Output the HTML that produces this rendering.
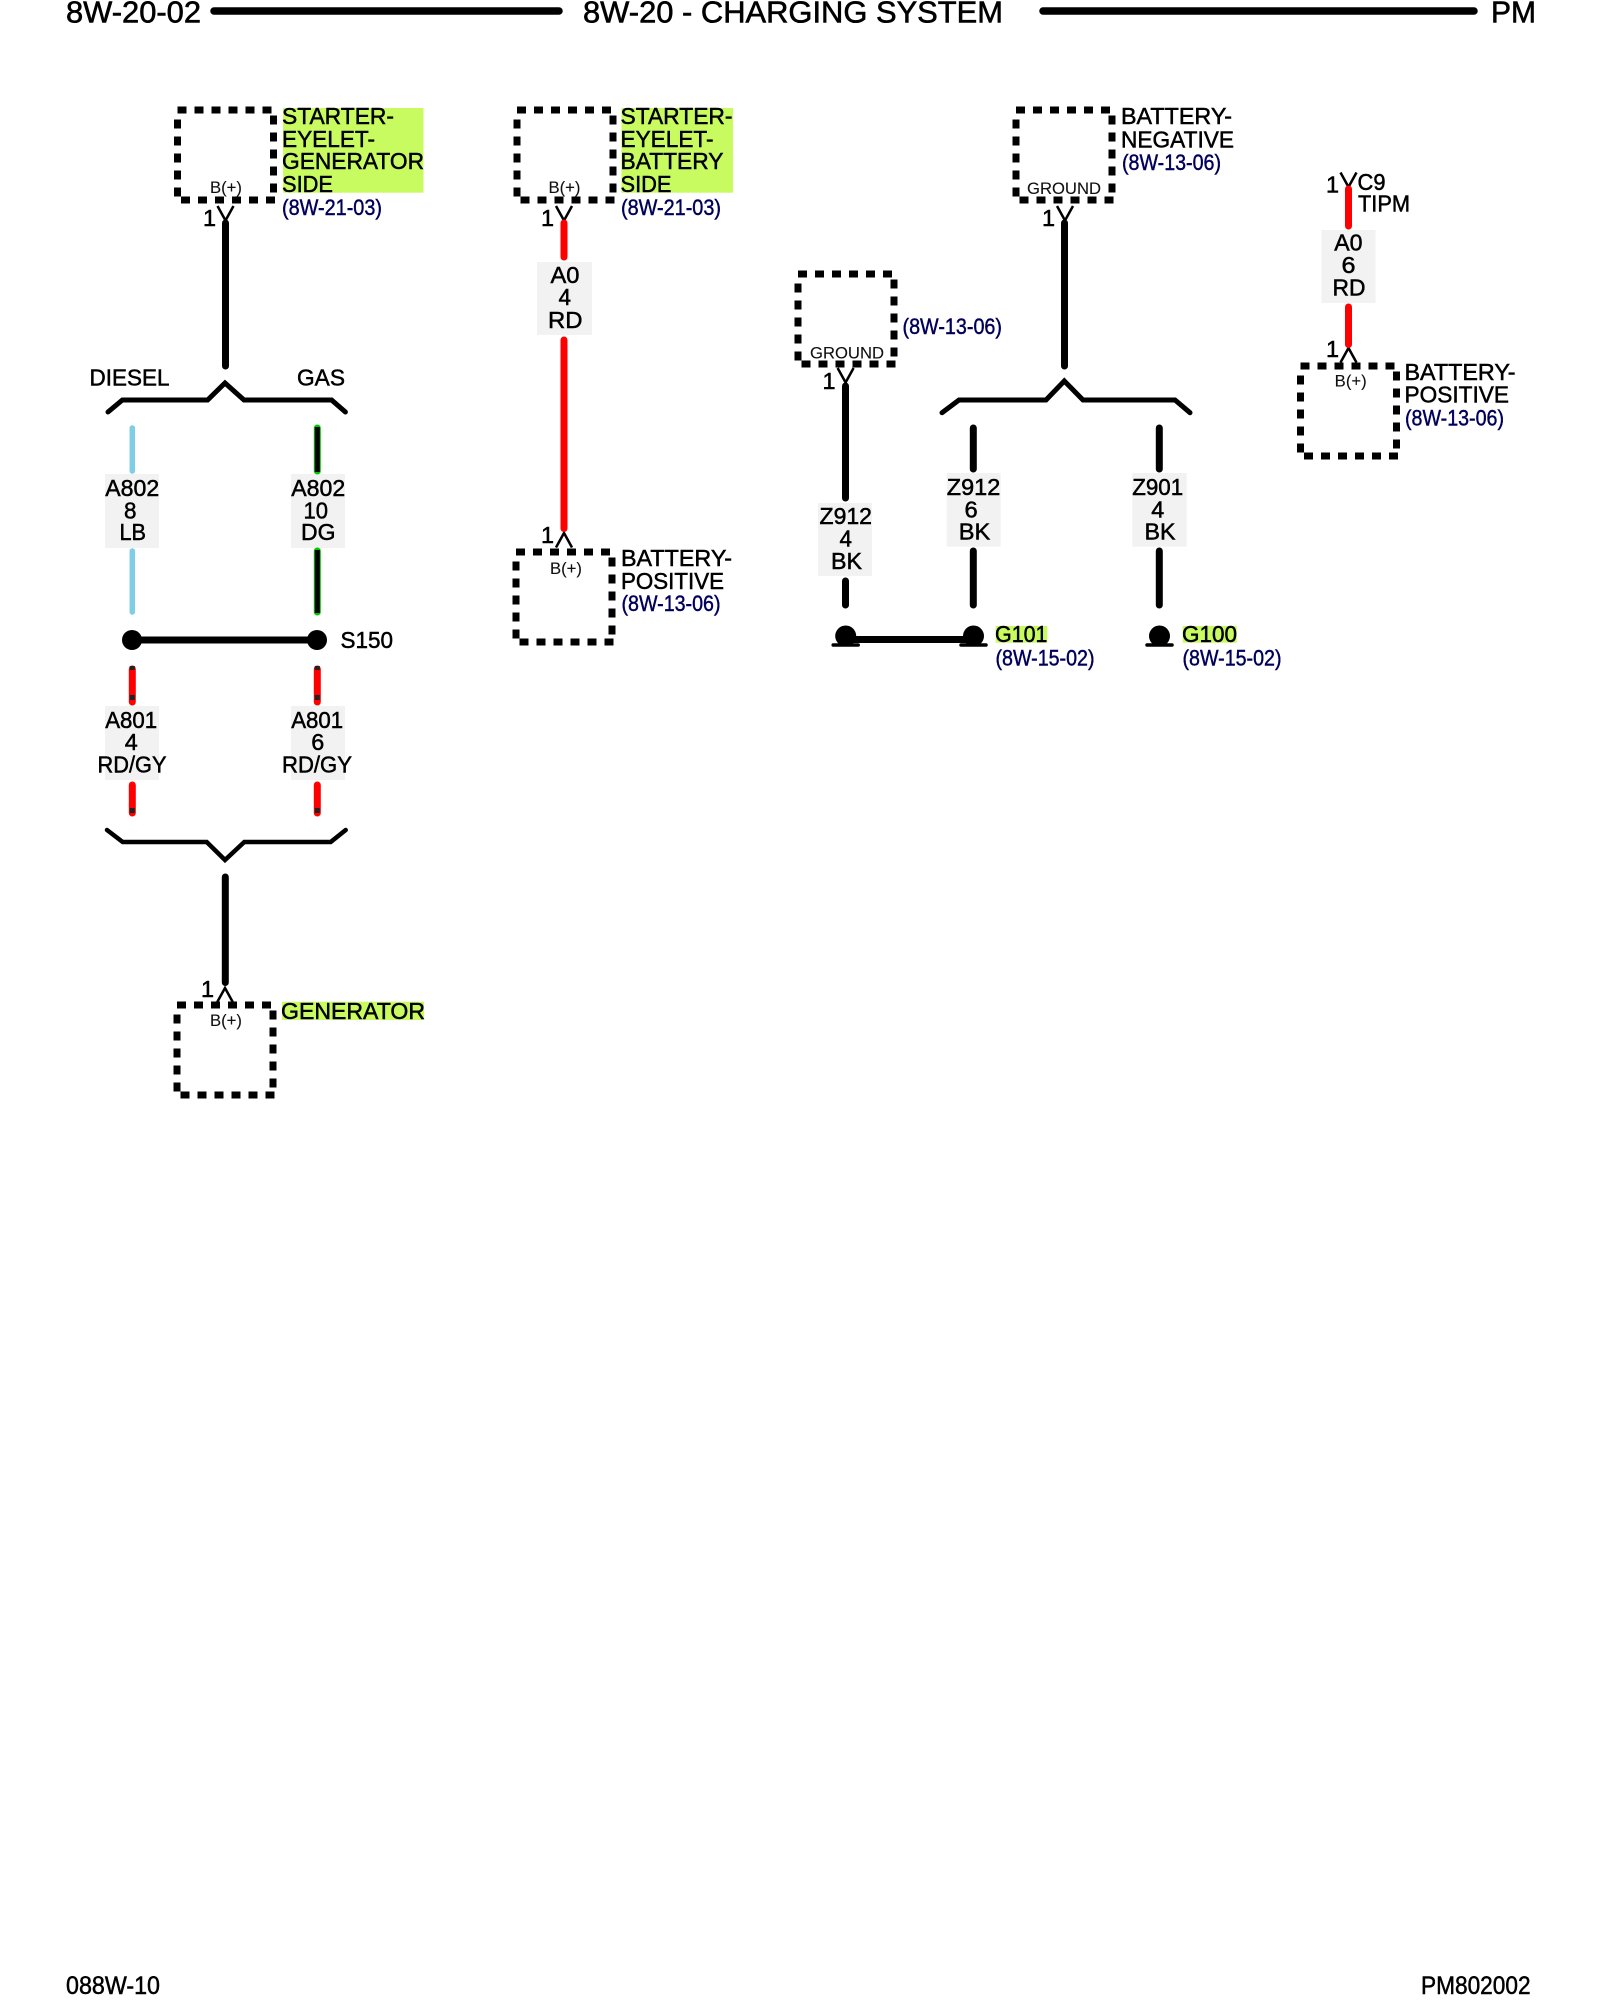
<!DOCTYPE html>
<html><head><meta charset="utf-8"><title>8W-20 Charging System</title>
<style>
html,body{margin:0;padding:0;background:#fff;width:1600px;height:2000px;overflow:hidden}
svg{display:block}
text{font-family:"Liberation Sans",Arial,sans-serif;fill:#000;stroke:#000;stroke-width:.5;font-size:23.500px}
.h{font-size:31px;stroke-width:.6}
.f{font-size:25px;stroke-width:.5}
.r{font-size:22px;fill:#00005a;stroke:#00005a;stroke-width:.45}
.s{font-size:16.500px;fill:#111;stroke:#111;stroke-width:.1}
.w{fill:none;stroke-width:7;stroke-linecap:round}
.k{stroke:#000}.d{stroke:#f00}
.b{fill:none;stroke:#000;stroke-width:5;stroke-linejoin:miter;stroke-linecap:round}
.b2{stroke-width:4.500}
.c{fill:none;stroke:#000;stroke-width:2.500}
.g{fill:#f2f2f2}.y{fill:#c8fb60}
</style></head><body>
<svg xmlns="http://www.w3.org/2000/svg" width="1600" height="2000" viewBox="0 0 1600 2000">
<defs>
<g id="box" fill="none" stroke="#000" stroke-width="7" stroke-dasharray="9 8">
<path d="M0 0H98"/><path d="M96 5.500V84"/><path d="M3.500 90H98"/><path d="M0 9.500V87"/>
</g>
<path id="cd" class="c" d="M-8 0L0 14.500L8 0"/>
<path id="cu" class="c" d="M-8 14.500L0 0L8 14.500"/>
<g id="gnd"><circle cx="0" cy="8" r="10.500" fill="#000"/><path d="M-12.500 17H12.500" stroke="#000" stroke-width="3.500" stroke-linecap="round"/></g>
</defs>

<!-- header -->
<text class="h" x="66" y="22.500" textLength="135" lengthAdjust="spacingAndGlyphs">8W-20-02</text>
<path d="M214 11H559M1043 11H1474" stroke="#000" stroke-width="7.500" stroke-linecap="round"/>
<text class="h" x="583" y="22.500" textLength="420" lengthAdjust="spacingAndGlyphs">8W-20 - CHARGING SYSTEM</text>
<text class="h" x="1491" y="22.500" textLength="45" lengthAdjust="spacingAndGlyphs">PM</text>

<!-- highlights and label backgrounds -->
<rect class="y" x="283" y="108" width="140.500" height="84.700"/>
<rect class="y" x="621.400" y="108" width="111.600" height="84.700"/>
<rect class="y" x="282" y="1001.700" width="142" height="18.300"/>
<rect class="y" x="995.700" y="626" width="51.600" height="16.700"/>
<rect class="y" x="1182.700" y="626" width="54" height="16.700"/>
<rect class="g" x="105" y="474" width="54" height="74"/>
<rect class="g" x="291" y="474" width="54" height="74"/>
<rect class="g" x="105" y="706" width="54" height="74"/>
<rect class="g" x="291" y="706" width="54" height="74"/>
<rect class="g" x="537" y="262" width="55" height="73"/>
<rect class="g" x="818" y="503" width="54" height="73"/>
<rect class="g" x="946.700" y="473" width="54" height="73.700"/>
<rect class="g" x="1132.300" y="473" width="54.400" height="73.700"/>
<rect class="g" x="1321.400" y="230" width="54.100" height="73"/>

<!-- dotted boxes -->
<use href="#box" x="177.500" y="110"/>
<use href="#box" x="517" y="110"/>
<use href="#box" x="1016" y="110"/>
<use href="#box" x="798" y="274"/>
<use href="#box" x="1300.500" y="366"/>
<use href="#box" x="516" y="552"/>
<use href="#box" x="177" y="1005"/>

<!-- connector glyphs -->
<use href="#cd" x="225.500" y="206"/>
<use href="#cd" x="564" y="206"/>
<use href="#cd" x="1065" y="206"/>
<use href="#cd" x="845.600" y="368"/>
<use href="#cd" x="1348.500" y="172.500"/>
<use href="#cu" x="1348.500" y="348"/>
<use href="#cu" x="564" y="533"/>
<use href="#cu" x="225" y="988"/>

<!-- brackets -->
<path class="b" d="M108 412L122.400 400H207.600L225 383L244 400H331.600L345.400 412"/>
<path class="b" d="M942 412.700L959 400H1046L1064.300 381L1083 400H1175L1190 412.700"/>
<path class="b b2" d="M107 830L122.700 842H206.700L225 860L244.300 842H330.700L345.700 830"/>

<!-- black wires -->
<path class="w k" d="M225.500 223V366M225.300 877V982.500M1064.500 223V366M845.500 386V498M845.500 581V605M973.300 428V469M973.300 551V605M1159.300 428V469M1159.300 551V605"/>
<path class="w k" d="M132 640H317M845 639.500H973"/>
<!-- red wires -->
<path class="w d" d="M564 223V257M564 340V528.500M1348.500 189V226M1348.500 307V344.500"/>
<!-- light blue -->
<path d="M132.300 428V471M132.300 551V612" fill="none" stroke="#7fcde6" stroke-width="5.500" stroke-linecap="round"/>
<!-- dark green -->
<path d="M317.300 428V471M317.300 551V612" fill="none" stroke="#00c800" stroke-width="7" stroke-linecap="round"/>
<path d="M317.300 427V472M317.300 550V613" fill="none" stroke="#000" stroke-width="5"/>
<!-- red/gray -->
<path class="w d" d="M132.300 669V702M317.300 669V702M132.300 785V813M317.300 785V813"/>
<path d="M132.300 666V670M132.300 695V700M317.300 666V670M317.300 695V700M132.300 808V813M317.300 808V813" stroke="#222" stroke-width="5" fill="none"/>

<circle cx="132" cy="640" r="10" fill="#000"/><circle cx="317" cy="640" r="10" fill="#000"/>
<use href="#gnd" x="845.700" y="628"/>
<use href="#gnd" x="973.500" y="628"/>
<use href="#gnd" x="1159.500" y="628"/>

<!-- pin numbers -->
<text x="203" y="226">1</text>
<text x="541" y="226">1</text>
<text x="1042" y="226">1</text>
<text x="822.500" y="389">1</text>
<text x="1326" y="192.500">1</text>
<text x="1326" y="357">1</text>
<text x="541" y="543">1</text>
<text x="201" y="997">1</text>

<!-- inner labels -->
<text class="s" x="210" y="193" textLength="32" lengthAdjust="spacingAndGlyphs">B(+)</text>
<text class="s" x="548.500" y="193" textLength="32" lengthAdjust="spacingAndGlyphs">B(+)</text>
<text class="s" x="1027" y="194" textLength="74" lengthAdjust="spacingAndGlyphs">GROUND</text>
<text class="s" x="810" y="358.700" textLength="74" lengthAdjust="spacingAndGlyphs">GROUND</text>
<text class="s" x="1334.700" y="386.700" textLength="32" lengthAdjust="spacingAndGlyphs">B(+)</text>
<text class="s" x="550" y="574" textLength="32" lengthAdjust="spacingAndGlyphs">B(+)</text>
<text class="s" x="210" y="1026" textLength="32" lengthAdjust="spacingAndGlyphs">B(+)</text>

<!-- component labels -->
<text x="282" y="124" textLength="112" lengthAdjust="spacingAndGlyphs">STARTER-</text>
<text x="282" y="147" textLength="93" lengthAdjust="spacingAndGlyphs">EYELET-</text>
<text x="282" y="169" textLength="142" lengthAdjust="spacingAndGlyphs">GENERATOR</text>
<text x="282" y="192" textLength="51" lengthAdjust="spacingAndGlyphs">SIDE</text>
<text class="r" x="282" y="215" textLength="100" lengthAdjust="spacingAndGlyphs">(8W-21-03)</text>

<text x="620.500" y="124" textLength="112" lengthAdjust="spacingAndGlyphs">STARTER-</text>
<text x="620.500" y="147" textLength="93" lengthAdjust="spacingAndGlyphs">EYELET-</text>
<text x="620.500" y="169" textLength="103" lengthAdjust="spacingAndGlyphs">BATTERY</text>
<text x="620.500" y="192" textLength="51" lengthAdjust="spacingAndGlyphs">SIDE</text>
<text class="r" x="621" y="215" textLength="100" lengthAdjust="spacingAndGlyphs">(8W-21-03)</text>

<text x="1121" y="124" textLength="111" lengthAdjust="spacingAndGlyphs">BATTERY-</text>
<text x="1121" y="147.500" textLength="113" lengthAdjust="spacingAndGlyphs">NEGATIVE</text>
<text class="r" x="1122" y="170" textLength="99" lengthAdjust="spacingAndGlyphs">(8W-13-06)</text>

<text class="r" x="902.500" y="334" textLength="99.500" lengthAdjust="spacingAndGlyphs">(8W-13-06)</text>

<text x="1357.500" y="190" textLength="28" lengthAdjust="spacingAndGlyphs">C9</text>
<text x="1358" y="211.700" textLength="52" lengthAdjust="spacingAndGlyphs">TIPM</text>

<text x="1404.500" y="380" textLength="111" lengthAdjust="spacingAndGlyphs">BATTERY-</text>
<text x="1404.500" y="402.700" textLength="104.500" lengthAdjust="spacingAndGlyphs">POSITIVE</text>
<text class="r" x="1405" y="425.700" textLength="99" lengthAdjust="spacingAndGlyphs">(8W-13-06)</text>

<text x="621" y="566" textLength="111" lengthAdjust="spacingAndGlyphs">BATTERY-</text>
<text x="621" y="589" textLength="103" lengthAdjust="spacingAndGlyphs">POSITIVE</text>
<text class="r" x="621.500" y="611" textLength="99" lengthAdjust="spacingAndGlyphs">(8W-13-06)</text>

<text x="89.500" y="385.700" textLength="80" lengthAdjust="spacingAndGlyphs">DIESEL</text>
<text x="297" y="385.700" textLength="48" lengthAdjust="spacingAndGlyphs">GAS</text>
<text x="340.500" y="648" textLength="52.500" lengthAdjust="spacingAndGlyphs">S150</text>
<text x="281" y="1019" textLength="144" lengthAdjust="spacingAndGlyphs">GENERATOR</text>

<text x="995" y="642" textLength="52.500" lengthAdjust="spacingAndGlyphs">G101</text>
<text class="r" x="995.500" y="665.700" textLength="99" lengthAdjust="spacingAndGlyphs">(8W-15-02)</text>
<text x="1182" y="642" textLength="55" lengthAdjust="spacingAndGlyphs">G100</text>
<text class="r" x="1182.500" y="665.700" textLength="99" lengthAdjust="spacingAndGlyphs">(8W-15-02)</text>

<!-- wire labels -->
<text x="105.200" y="496" textLength="54" lengthAdjust="spacingAndGlyphs">A802</text>
<text x="124" y="518.700" textLength="12.500" lengthAdjust="spacingAndGlyphs">8</text>
<text x="119.500" y="540" textLength="26.500" lengthAdjust="spacingAndGlyphs">LB</text>

<text x="291.200" y="496" textLength="54" lengthAdjust="spacingAndGlyphs">A802</text>
<text x="303.500" y="518.700" textLength="24.500" lengthAdjust="spacingAndGlyphs">10</text>
<text x="301" y="540" textLength="34.500" lengthAdjust="spacingAndGlyphs">DG</text>

<text x="105.200" y="728" textLength="52" lengthAdjust="spacingAndGlyphs">A801</text>
<text x="124.700" y="750" textLength="13" lengthAdjust="spacingAndGlyphs">4</text>
<text x="97.500" y="772.700" textLength="69" lengthAdjust="spacingAndGlyphs">RD/GY</text>

<text x="291.200" y="728" textLength="52" lengthAdjust="spacingAndGlyphs">A801</text>
<text x="311.200" y="750" textLength="13" lengthAdjust="spacingAndGlyphs">6</text>
<text x="282" y="772.700" textLength="70" lengthAdjust="spacingAndGlyphs">RD/GY</text>

<text x="550.500" y="283" textLength="29" lengthAdjust="spacingAndGlyphs">A0</text>
<text x="558.500" y="305" textLength="12.500" lengthAdjust="spacingAndGlyphs">4</text>
<text x="548" y="328" textLength="34.500" lengthAdjust="spacingAndGlyphs">RD</text>

<text x="819.500" y="524" textLength="52.500" lengthAdjust="spacingAndGlyphs">Z912</text>
<text x="839.500" y="546.700" textLength="12.500" lengthAdjust="spacingAndGlyphs">4</text>
<text x="831" y="569" textLength="31" lengthAdjust="spacingAndGlyphs">BK</text>

<text x="946.800" y="495" textLength="53.500" lengthAdjust="spacingAndGlyphs">Z912</text>
<text x="964.500" y="517.300" textLength="13.200" lengthAdjust="spacingAndGlyphs">6</text>
<text x="958.800" y="539.300" textLength="31.500" lengthAdjust="spacingAndGlyphs">BK</text>

<text x="1132.200" y="495" textLength="51" lengthAdjust="spacingAndGlyphs">Z901</text>
<text x="1151.200" y="517.300" textLength="13" lengthAdjust="spacingAndGlyphs">4</text>
<text x="1144.500" y="539.300" textLength="31" lengthAdjust="spacingAndGlyphs">BK</text>

<text x="1334.200" y="250.700" textLength="28.300" lengthAdjust="spacingAndGlyphs">A0</text>
<text x="1341.500" y="273" textLength="14" lengthAdjust="spacingAndGlyphs">6</text>
<text x="1332.500" y="295.700" textLength="33" lengthAdjust="spacingAndGlyphs">RD</text>

<!-- footer -->
<text class="f" x="66" y="1994" textLength="94" lengthAdjust="spacingAndGlyphs">088W-10</text>
<text class="f" x="1421" y="1994" textLength="109.600" lengthAdjust="spacingAndGlyphs">PM802002</text>
</svg>
</body></html>
